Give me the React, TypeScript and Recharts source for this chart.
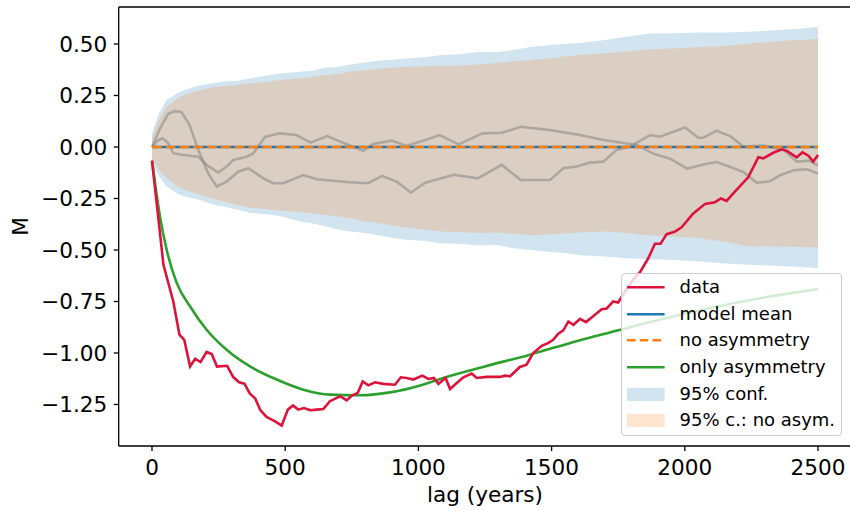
import React from 'react';
import { ComposedChart, Line, Area, XAxis, YAxis, ReferenceLine } from 'recharts';

// ---- data: observed curve ----
const dataLags = [0, 43, 80, 103, 121, 143, 162, 182, 205, 224, 244, 282, 305, 327, 347, 367, 387, 407, 430, 462, 487, 510, 529, 549, 570, 595, 618, 643, 668, 706, 731, 750, 772, 791, 812, 837, 868, 912, 934, 956, 981, 1015, 1037, 1058, 1075, 1102, 1119, 1144, 1169, 1200, 1219, 1256, 1306, 1325, 1344, 1381, 1406, 1431, 1463, 1488, 1506, 1525, 1544, 1563, 1582, 1607, 1629, 1657, 1688, 1707, 1731, 1750, 1776, 1806, 1832, 1863, 1888, 1909, 1932, 1963, 1988, 2030, 2076, 2113, 2136, 2157, 2188, 2238, 2276, 2295, 2332, 2364, 2382, 2420, 2442, 2464, 2482, 2500];
const dataM = [-0.066, -0.572, -0.75, -0.911, -0.936, -1.065, -1.028, -1.044, -0.995, -1.005, -1.066, -1.062, -1.117, -1.142, -1.149, -1.196, -1.22, -1.278, -1.31, -1.332, -1.352, -1.275, -1.255, -1.275, -1.267, -1.278, -1.275, -1.272, -1.234, -1.21, -1.23, -1.207, -1.194, -1.138, -1.157, -1.142, -1.15, -1.154, -1.118, -1.121, -1.129, -1.11, -1.126, -1.121, -1.15, -1.121, -1.175, -1.146, -1.118, -1.1, -1.121, -1.116, -1.116, -1.11, -1.113, -1.068, -1.057, -1.0, -0.965, -0.951, -0.936, -0.906, -0.89, -0.847, -0.863, -0.834, -0.85, -0.82, -0.788, -0.784, -0.75, -0.755, -0.7, -0.645, -0.608, -0.54, -0.47, -0.47, -0.423, -0.411, -0.39, -0.325, -0.276, -0.268, -0.25, -0.262, -0.217, -0.147, -0.05, -0.055, -0.028, -0.011, -0.018, -0.05, -0.026, -0.042, -0.071, -0.039];

// ---- model mean & no asymmetry ----
const meanLags = [0, 2500];
const meanM = [0, 0];
const noAsymM = [0, 0];

// ---- only asymmetry ----
const asymLags = [0, 15, 30, 55, 93, 143, 205, 280, 368, 468, 568, 668, 781, 900, 1000, 1093, 1250, 1419, 1600, 1719, 1900, 2100, 2300, 2500];
const asymM = [-0.066, -0.21, -0.338, -0.499, -0.661, -0.774, -0.887, -0.984, -1.065, -1.129, -1.178, -1.202, -1.205, -1.19, -1.16, -1.121, -1.065, -1.008, -0.94, -0.9, -0.84, -0.78, -0.73, -0.69];

// ---- confidence bands ----
const bandLags = [0, 25, 55, 100, 140, 180, 225, 270, 320, 368, 420, 480, 555, 600, 650, 700, 743, 800, 856, 900, 950, 1020, 1081, 1150, 1231, 1290, 1350, 1420, 1494, 1550, 1607, 1700, 1780, 1870, 1960, 2058, 2150, 2245, 2320, 2400, 2450, 2500];
const confHigh = [0.066, 0.16, 0.228, 0.265, 0.285, 0.3, 0.31, 0.318, 0.322, 0.333, 0.345, 0.357, 0.365, 0.37, 0.385, 0.39, 0.4, 0.41, 0.42, 0.423, 0.43, 0.436, 0.445, 0.45, 0.462, 0.46, 0.47, 0.485, 0.495, 0.5, 0.505, 0.52, 0.535, 0.551, 0.552, 0.556, 0.556, 0.559, 0.566, 0.572, 0.576, 0.583];
const confLow = [-0.079, -0.14, -0.192, -0.23, -0.245, -0.257, -0.278, -0.29, -0.305, -0.32, -0.325, -0.335, -0.362, -0.37, -0.385, -0.4, -0.41, -0.418, -0.43, -0.44, -0.45, -0.455, -0.467, -0.47, -0.478, -0.475, -0.49, -0.5, -0.51, -0.515, -0.525, -0.532, -0.54, -0.545, -0.548, -0.556, -0.565, -0.572, -0.575, -0.58, -0.584, -0.588];
const noAsymHigh = [0.044, 0.13, 0.195, 0.24, 0.262, 0.276, 0.29, 0.295, 0.302, 0.309, 0.315, 0.325, 0.333, 0.34, 0.35, 0.356, 0.365, 0.372, 0.381, 0.385, 0.39, 0.392, 0.395, 0.395, 0.4, 0.408, 0.415, 0.422, 0.43, 0.44, 0.446, 0.455, 0.462, 0.474, 0.478, 0.485, 0.49, 0.503, 0.51, 0.518, 0.52, 0.527];
const noAsymLow = [-0.055, -0.11, -0.152, -0.195, -0.215, -0.233, -0.25, -0.265, -0.282, -0.295, -0.3, -0.31, -0.315, -0.322, -0.33, -0.338, -0.346, -0.36, -0.37, -0.38, -0.39, -0.4, -0.41, -0.413, -0.418, -0.415, -0.42, -0.428, -0.425, -0.42, -0.415, -0.41, -0.418, -0.43, -0.435, -0.443, -0.46, -0.483, -0.482, -0.485, -0.486, -0.487];

// ---- grey realisations ----
const simALags = [0, 30, 60, 85, 110, 140, 174, 211, 243, 280, 324, 362, 418, 455, 493, 568, 618, 743, 811, 864, 918, 972, 1026, 1133, 1223, 1313, 1384, 1494, 1544, 1594, 1644, 1694, 1744, 1794, 1870, 1907, 1957, 2001, 2051, 2070, 2120, 2170, 2220, 2295, 2370, 2420, 2470, 2500];
const simAM = [0, 0.09, 0.16, 0.174, 0.17, 0.11, -0.015, -0.128, -0.192, -0.168, -0.12, -0.103, -0.152, -0.176, -0.176, -0.136, -0.157, -0.171, -0.176, -0.14, -0.168, -0.221, -0.173, -0.135, -0.152, -0.087, -0.16, -0.16, -0.103, -0.095, -0.076, -0.071, -0.014, 0.002, 0.058, 0.05, 0.074, 0.095, 0.045, 0.045, 0.079, 0.053, 0.002, 0.007, -0.014, -0.071, -0.067, -0.09];
const simBLags = [0, 20, 39, 60, 80, 118, 174, 205, 249, 280, 305, 355, 380, 425, 479, 542, 595, 658, 721, 793, 829, 900, 954, 1026, 1080, 1151, 1241, 1313, 1384, 1494, 1607, 1695, 1820, 1883, 1945, 2008, 2083, 2120, 2170, 2220, 2270, 2320, 2358, 2408, 2458, 2500];
const simBM = [0, 0.03, 0.042, 0.02, -0.03, -0.039, -0.047, -0.087, -0.124, -0.095, -0.063, -0.047, -0.031, 0.05, 0.066, 0.058, 0.021, 0.053, 0.018, -0.018, 0.015, 0.031, 0.005, 0.034, 0.058, 0.013, 0.066, 0.069, 0.098, 0.082, 0.058, 0.034, 0.01, -0.033, -0.057, -0.105, -0.081, -0.073, -0.097, -0.121, -0.174, -0.166, -0.137, -0.113, -0.108, -0.129];

const xTicks = [0, 500, 1000, 1500, 2000, 2500];
const yTicks = [-1.25, -1.0, -0.75, -0.5, -0.25, 0, 0.25, 0.5];
const X_DOMAIN = [-125, 2625];
const Y_DOMAIN = [-1.4515, 0.6796];

const zip = (xs: number[], ys: number[]) => xs.map((lag, i) => ({ lag, v: ys[i] }));
const dataRows = zip(dataLags, dataM);
const meanRows = zip(meanLags, meanM);
const noAsymRows = zip(meanLags, noAsymM);
const asymRows = zip(asymLags, asymM);
const simARows = zip(simALags, simAM);
const simBRows = zip(simBLags, simBM);
const confRows = bandLags.map((lag, i) => ({ lag, r: [confLow[i], confHigh[i]] }));
const noAsymBandRows = bandLags.map((lag, i) => ({ lag, r: [noAsymLow[i], noAsymHigh[i]] }));

const FONT = '"DejaVu Sans", sans-serif';
const LW = 2.6;
const C_RED = '#dc143c';
const C_BLUE = '#1f77b4';
const C_ORANGE = '#ff7f0e';
const C_GREEN = '#2ca02c';

const fmtY = (v: number) => v.toFixed(2).replace('-', '\u2212');

const legendItems = [
  { label: 'data', kind: 'line', color: C_RED },
  { label: 'model mean', kind: 'line', color: C_BLUE },
  { label: 'no asymmetry', kind: 'dash', color: C_ORANGE },
  { label: 'only asymmetry', kind: 'line', color: C_GREEN },
  { label: '95% conf.', kind: 'patch', color: C_BLUE },
  { label: '95% c.: no asym.', kind: 'patch', color: C_ORANGE },
];

function LegendBox() {
  return (
    <div
      style={{
        position: 'absolute',
        left: 620.5,
        top: 272.5,
        width: 221,
        height: 163,
        background: 'rgba(255,255,255,0.8)',
        border: '1.3px solid #cccccc',
        borderRadius: 4,
        boxSizing: 'border-box',
        paddingTop: 0.5,
        fontFamily: FONT,
        fontSize: 18,
        color: '#000',
      }}
    >
      {legendItems.map((it) => (
        <div key={it.label} style={{ height: 26.67, display: 'flex', alignItems: 'center', whiteSpace: 'nowrap' }}>
          <svg width={58} height={26.67} style={{ flex: 'none' }}>
            {it.kind === 'patch' ? (
              <rect x={5} y={6.8} width={37.6} height={13.3} fill={it.color} fillOpacity={0.2} />
            ) : (
              <line
                x1={5}
                x2={42.6}
                y1={13.3}
                y2={13.3}
                stroke={it.color}
                strokeWidth={LW}
                strokeDasharray={it.kind === 'dash' ? '8.5 4.3' : undefined}
              />
            )}
          </svg>
          <span style={{ lineHeight: '26.67px' }}>{it.label}</span>
        </div>
      ))}
    </div>
  );
}

export default function App() {
  return (
    <div style={{ position: 'absolute', left: 0, top: 0, width: 850, height: 511, overflow: 'hidden', background: '#fff' }}>
      <ComposedChart width={860} height={511} margin={{ top: 7, right: 8.7, left: 0, bottom: 0 }}>
        <XAxis
          xAxisId="x"
          dataKey="lag"
          type="number"
          domain={X_DOMAIN}
          allowDataOverflow
          ticks={xTicks}
          height={65}
          tickSize={5}
          tickMargin={8.3}
          stroke="#000"
          tickLine={{ stroke: '#000', strokeWidth: 1.3 }}
          axisLine={{ stroke: '#000', strokeWidth: 1.3 }}
          tick={{ fill: '#000', fontSize: 21.6, fontFamily: FONT }}
          label={{ value: 'lag (years)', position: 'center', dy: 15.5, fill: '#000', fontSize: 21.6, fontFamily: FONT }}
        />
        <YAxis
          yAxisId="y"
          type="number"
          domain={Y_DOMAIN}
          allowDataOverflow
          ticks={yTicks}
          width={118.7}
          tickSize={5}
          tickMargin={6.4}
          tickFormatter={fmtY}
          tickLine={{ stroke: '#000', strokeWidth: 1.3 }}
          axisLine={{ stroke: '#000', strokeWidth: 1.3 }}
          tick={{ fill: '#000', fontSize: 21.6, fontFamily: FONT }}
          label={{ value: 'M', angle: -90, position: 'center', dx: -39, fill: '#000', fontSize: 21.6, fontFamily: FONT }}
        />
        <Area xAxisId="x" yAxisId="y" data={confRows} dataKey="r" type="linear" stroke="none" fill={C_BLUE} fillOpacity={0.2} isAnimationActive={false} dot={false} activeDot={false} />
        <Area xAxisId="x" yAxisId="y" data={noAsymBandRows} dataKey="r" type="linear" stroke="none" fill={C_ORANGE} fillOpacity={0.2} isAnimationActive={false} dot={false} activeDot={false} />
        <Line xAxisId="x" yAxisId="y" data={simARows} dataKey="v" type="linear" stroke="#808080" strokeOpacity={0.5} strokeWidth={LW} dot={false} activeDot={false} isAnimationActive={false} />
        <Line xAxisId="x" yAxisId="y" data={simBRows} dataKey="v" type="linear" stroke="#808080" strokeOpacity={0.5} strokeWidth={LW} dot={false} activeDot={false} isAnimationActive={false} />
        <Line xAxisId="x" yAxisId="y" data={meanRows} dataKey="v" type="linear" stroke={C_BLUE} strokeWidth={LW} dot={false} activeDot={false} isAnimationActive={false} />
        <Line xAxisId="x" yAxisId="y" data={noAsymRows} dataKey="v" type="linear" stroke={C_ORANGE} strokeWidth={LW} strokeDasharray="9.6 4.2" dot={false} activeDot={false} isAnimationActive={false} />
        <Line xAxisId="x" yAxisId="y" data={asymRows} dataKey="v" type="monotone" stroke={C_GREEN} strokeWidth={LW} dot={false} activeDot={false} isAnimationActive={false} />
        <Line xAxisId="x" yAxisId="y" data={dataRows} dataKey="v" type="linear" stroke={C_RED} strokeWidth={LW} dot={false} activeDot={false} isAnimationActive={false} />
        <ReferenceLine xAxisId="x" yAxisId="y" y={Y_DOMAIN[1]} stroke="#000" strokeWidth={1.3} ifOverflow="visible" />
        <ReferenceLine xAxisId="x" yAxisId="y" x={X_DOMAIN[1]} stroke="#000" strokeWidth={1.3} ifOverflow="visible" />
      </ComposedChart>
      <LegendBox />
    </div>
  );
}
